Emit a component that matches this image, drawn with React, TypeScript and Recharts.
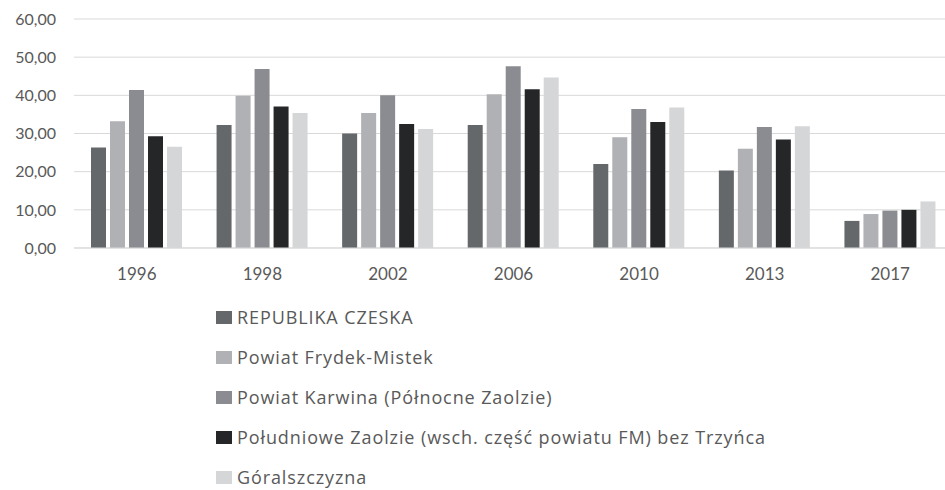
import * as React from "react";
import { Bar, BarChart, CartesianGrid, Legend, XAxis, YAxis } from "recharts";

const YEARS = ["1996", "1998", "2002", "2006", "2010", "2013", "2017"];

const republikaCzeska = [26.3, 32.2, 30.0, 32.2, 22.0, 20.3, 7.1];
const powiatFrydekMistek = [33.2, 39.9, 35.4, 40.3, 29.0, 26.0, 8.9];
const powiatKarwina = [41.4, 46.9, 40.0, 47.6, 36.4, 31.7, 9.8];
const poludnioweZaolzie = [29.3, 37.1, 32.5, 41.6, 33.0, 28.4, 10.0];
const goralszczyzna = [26.5, 35.4, 31.2, 44.7, 36.8, 31.9, 12.2];

const Y_TICKS = [0, 10, 20, 30, 40, 50, 60];

const SERIES = [
  { key: "rc", label: "REPUBLIKA CZESKA", color: "#65686a", values: republikaCzeska },
  { key: "fm", label: "Powiat Frydek-Mistek", color: "#b0b1b4", values: powiatFrydekMistek },
  { key: "ka", label: "Powiat Karwina (Północne Zaolzie)", color: "#8b8c91", values: powiatKarwina },
  {
    key: "pz",
    label: "Południowe Zaolzie (wsch. część powiatu FM) bez Trzyńca",
    color: "#252628",
    values: poludnioweZaolzie,
  },
  { key: "go", label: "Góralszczyzna", color: "#d5d6d8", values: goralszczyzna },
];

const data = YEARS.map((year, i) => {
  const row: Record<string, string | number> = { year };
  SERIES.forEach((s) => {
    row[s.key] = s.values[i];
  });
  return row;
});

const FONT = "Lato, 'Open Sans', sans-serif";
const LEGEND_FONT = "'Open Sans', Lato, sans-serif";
const TEXT = "#595959";

function formatPl(value: number) {
  return value.toFixed(2).replace(".", ",");
}

function LegendList() {
  return (
    <div style={{ fontFamily: LEGEND_FONT, fontSize: 18, color: TEXT, letterSpacing: 0.9 }}>
      {SERIES.map((s, i) => (
        <div
          key={s.key}
          style={{
            display: "flex",
            alignItems: "center",
            height: 20,
            lineHeight: "20px",
            marginBottom: i < SERIES.length - 1 ? 20 : 0,
            whiteSpace: "nowrap",
          }}
        >
          <span
            style={{
              display: "inline-block",
              width: 16,
              height: 13,
              background: s.color,
              marginRight: 5,
            }}
          />
          <span>{s.label}</span>
        </div>
      ))}
    </div>
  );
}

export default function App() {
  return (
    <div
      style={{
        position: "fixed",
        left: 0,
        top: 0,
        width: 945,
        height: 490,
        overflow: "hidden",
        background: "#fff",
      }}
    >
      <BarChart
        width={960}
        height={490}
        data={data}
        margin={{ top: 19, right: 7, left: 0, bottom: 212 }}
        barCategoryGap={17}
        barGap={4}
      >
        <CartesianGrid vertical={false} stroke="#d9d9d9" />
        <XAxis
          dataKey="year"
          height={30}
          tickLine={false}
          tickSize={0}
          tickMargin={20}
          axisLine={{ stroke: "#d9d9d9" }}
          tick={{ fontSize: 17, fill: TEXT, fontFamily: FONT }}
        />
        <YAxis
          width={74}
          domain={[0, 60]}
          ticks={Y_TICKS}
          axisLine={false}
          tickLine={false}
          tickSize={0}
          tickMargin={18}
          tickFormatter={(v) => formatPl(v as number)}
          tick={{ fontSize: 16, fill: TEXT, fontFamily: FONT }}
        />
        <Legend
          layout="vertical"
          verticalAlign="middle"
          align="center"
          wrapperStyle={{ left: 216, top: 307, width: 700 }}
          content={() => <LegendList />}
        />
        {SERIES.map((s) => (
          <Bar
            key={s.key}
            dataKey={s.key}
            name={s.label}
            fill={s.color}
            isAnimationActive={false}
          />
        ))}
      </BarChart>
    </div>
  );
}
